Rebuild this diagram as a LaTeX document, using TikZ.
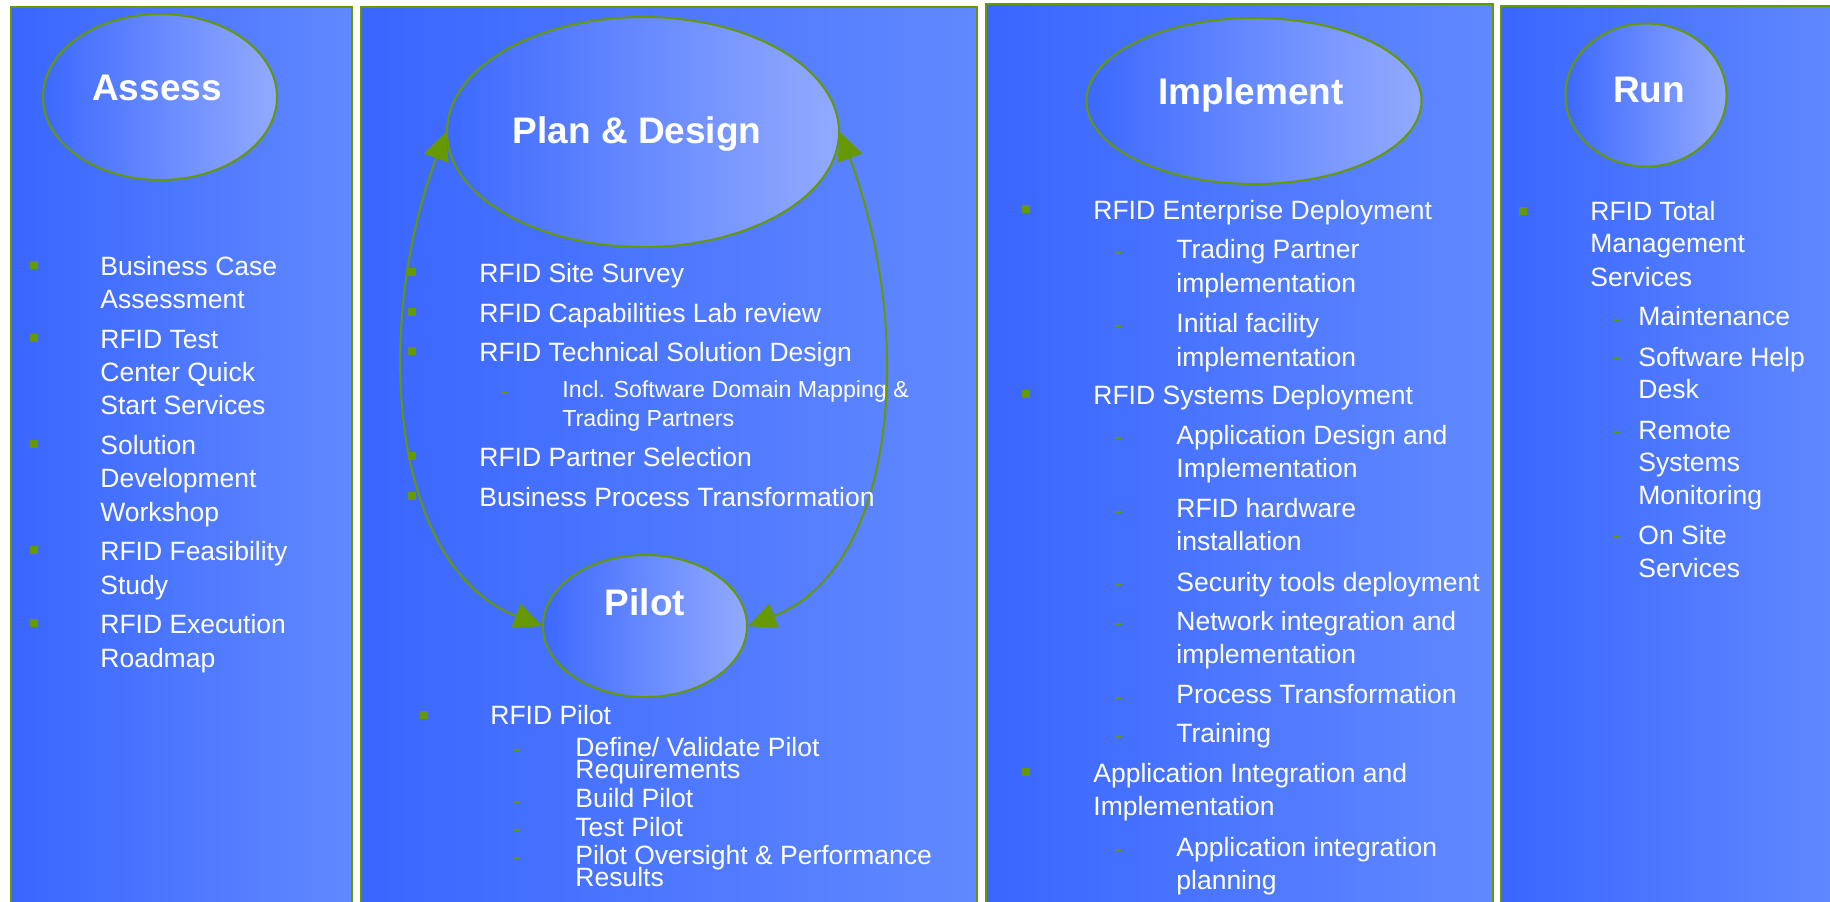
\documentclass[tikz,border=0pt]{standalone}
\usepackage{fontspec}
\setmainfont{Liberation Sans}
\usetikzlibrary{shapes.geometric,arrows.meta}
\definecolor{bgreen}{HTML}{669900}
\definecolor{panL}{HTML}{3A66FF}
\definecolor{panR}{HTML}{6089FF}
\definecolor{ellL}{HTML}{3C69FF}
\definecolor{ellR}{HTML}{92AAFF}
\tikzset{
 panel/.style={draw=bgreen, line width=1.25pt, left color=panL, right color=panR},
 phase/.style={ellipse, draw=bgreen, line width=1pt, left color=ellL, right color=ellR, inner sep=0pt},
 head/.style={anchor=base, inner sep=0pt, text=white, font=\bfseries\fontsize{18.5pt}{22pt}\selectfont},
 txt/.style={anchor=base west, inner sep=0pt, text=white, font=\fontsize{13.25pt}{15pt}\selectfont},
 smalltxt/.style={txt, font=\fontsize{11.6pt}{14pt}\selectfont},
 bul/.style={rectangle, fill=bgreen, inner sep=0pt, minimum size=3.6pt},
 dsh/.style={rectangle, fill=bgreen, inner sep=0pt, minimum width=2.6pt, minimum height=0.8pt},
 cycarrow/.style={draw=bgreen, line width=1pt, {Triangle[length=14pt,width=13pt]}-{Triangle[length=14pt,width=13pt]}},
}
\begin{document}
\begin{tikzpicture}[x=0.5pt,y=-0.5pt]
\useasboundingbox (0,0) rectangle (1830,901);
\clip (0,0) rectangle (1830,901);
\fill[white] (0,0) rectangle (1830,901);
% panels
\path[panel] (11,7) rectangle (352,915);
\path[panel] (361,7) rectangle (977,915);
\path[panel] (986,4) rectangle (1493,915);
\path[panel] (1501,6) rectangle (1840,915);
% phase ellipses
\node[phase, minimum width=117pt, minimum height=83pt] (assessE) at (160,97) {};
\node[phase, minimum width=196pt, minimum height=115pt] (planE) at (643,132) {};
\node[phase, minimum width=102pt, minimum height=71pt] (pilotE) at (645,626) {};
\node[phase, minimum width=167.5pt, minimum height=83pt] (implE) at (1254,101) {};
\node[phase, minimum width=80.5pt, minimum height=71.5pt] (runE) at (1646,95) {};
\node[head] (assessT) at (157,100) {Assess};
\node[head] (planT) at (637,143) {Plan \& Design};
\node[head] (pilotT) at (645,615) {Pilot};
\node[head] (implT) at (1251,104) {Implement};
\node[head] (runT) at (1649,102) {Run};
% cycle arrows
\draw[cycarrow] (planE.west) .. controls +(-75,200) and +(-150,-58) .. (pilotE.west);
\draw[cycarrow] (planE.east) .. controls +(75,200) and +(150,-58) .. (pilotE.east);
% column 1
\node[bul] (b11) at (34,265) {};
\node[txt] (t11a) at (100,275) {Business Case};
\node[txt] (t11b) at (100,308) {Assessment};
\node[bul] (b12) at (34,338) {};
\node[txt] (t12a) at (100,348) {RFID Test};
\node[txt] (t12b) at (100,381) {Center Quick};
\node[txt] (t12c) at (100,414) {Start Services};
\node[bul] (b13) at (34,444) {};
\node[txt] (t13a) at (100,454) {Solution};
\node[txt] (t13b) at (100,487) {Development};
\node[txt] (t13c) at (100,521) {Workshop};
\node[bul] (b14) at (34,550) {};
\node[txt] (t14a) at (100,560) {RFID Feasibility};
\node[txt] (t14b) at (100,594) {Study};
\node[bul] (b15) at (34,623) {};
\node[txt] (t15a) at (100,633) {RFID Execution};
\node[txt] (t15b) at (100,667) {Roadmap};
% column 2
\node[bul] (b21) at (412,272) {};
\node[txt] (t21) at (479,282) {RFID Site Survey};
\node[bul] (b22) at (412,312) {};
\node[txt] (t22) at (479,322) {RFID Capabilities Lab review};
\node[bul] (b23) at (412,351) {};
\node[txt] (t23) at (479,361) {RFID Technical Solution Design};
\node[dsh] (d23) at (504,393) {};
\node[smalltxt] (t23a) at (562,397) {Incl. Software Domain Mapping \&};
\node[smalltxt] (t23b) at (562,426) {Trading Partners};
\node[bul] (b24) at (412,456) {};
\node[txt] (t24) at (479,466) {RFID Partner Selection};
\node[bul] (b25) at (412,496) {};
\node[txt] (t25) at (479,506) {Business Process Transformation};
% pilot
\node[bul] (b26) at (424,715) {};
\node[txt] (t26) at (490,724) {RFID Pilot};
\node[dsh] (d26a) at (517,750) {};
\node[txt] (t26a) at (575,756) {Define/ Validate Pilot};
\node[txt] (t26b) at (575,778) {Requirements};
\node[dsh] (d26c) at (517,802) {};
\node[txt] (t26c) at (575,807) {Build Pilot};
\node[dsh] (d26d) at (517,830) {};
\node[txt] (t26d) at (575,836) {Test Pilot};
\node[dsh] (d26e) at (517,858) {};
\node[txt] (t26e) at (575,864) {Pilot Oversight \& Performance};
\node[txt] (t26f) at (575,886) {Results};
% column 3
\node[bul] (b31) at (1026,209) {};
\node[txt] (t31) at (1093,219) {RFID Enterprise Deployment};
\node[dsh] (d31a) at (1118,253) {};
\node[txt] (t31a) at (1176,258) {Trading Partner};
\node[txt] (t31b) at (1176,292) {implementation};
\node[dsh] (d31c) at (1118,326) {};
\node[txt] (t31c) at (1176,332) {Initial facility};
\node[txt] (t31d) at (1176,366) {implementation};
\node[bul] (b32) at (1026,394) {};
\node[txt] (t32) at (1093,404) {RFID Systems Deployment};
\node[dsh] (d32a) at (1118,438) {};
\node[txt] (t32a) at (1176,444) {Application Design and};
\node[txt] (t32b) at (1176,477) {Implementation};
\node[dsh] (d32c) at (1118,512) {};
\node[txt] (t32c) at (1176,517) {RFID hardware};
\node[txt] (t32d) at (1176,550) {installation};
\node[dsh] (d32e) at (1118,585) {};
\node[txt] (t32e) at (1176,591) {Security tools deployment};
\node[dsh] (d32f) at (1118,624) {};
\node[txt] (t32f) at (1176,630) {Network integration and};
\node[txt] (t32g) at (1176,663) {implementation};
\node[dsh] (d32h) at (1118,698) {};
\node[txt] (t32h) at (1176,703) {Process Transformation};
\node[dsh] (d32i) at (1118,737) {};
\node[txt] (t32i) at (1176,742) {Training};
\node[bul] (b33) at (1026,772) {};
\node[txt] (t33) at (1093,782) {Application Integration and};
\node[txt] (t33b) at (1093,815) {Implementation};
\node[dsh] (d33c) at (1118,850) {};
\node[txt] (t33c) at (1176,856) {Application integration};
\node[txt] (t33d) at (1176,889) {planning};
% column 4
\node[bul] (b41) at (1523,211) {};
\node[txt] (t41a) at (1590,220) {RFID Total};
\node[txt] (t41b) at (1590,252) {Management};
\node[txt] (t41c) at (1590,286) {Services};
\node[dsh] (d42) at (1617,320) {};
\node[txt] (t42) at (1638,325) {Maintenance};
\node[dsh] (d43) at (1617,358) {};
\node[txt] (t43a) at (1638,366) {Software Help};
\node[txt] (t43b) at (1638,398) {Desk};
\node[dsh] (d44) at (1617,432) {};
\node[txt] (t44a) at (1638,439) {Remote};
\node[txt] (t44b) at (1638,471) {Systems};
\node[txt] (t44c) at (1638,504) {Monitoring};
\node[dsh] (d45) at (1617,537) {};
\node[txt] (t45a) at (1638,544) {On Site};
\node[txt] (t45b) at (1638,577) {Services};
\end{tikzpicture}
\end{document}
